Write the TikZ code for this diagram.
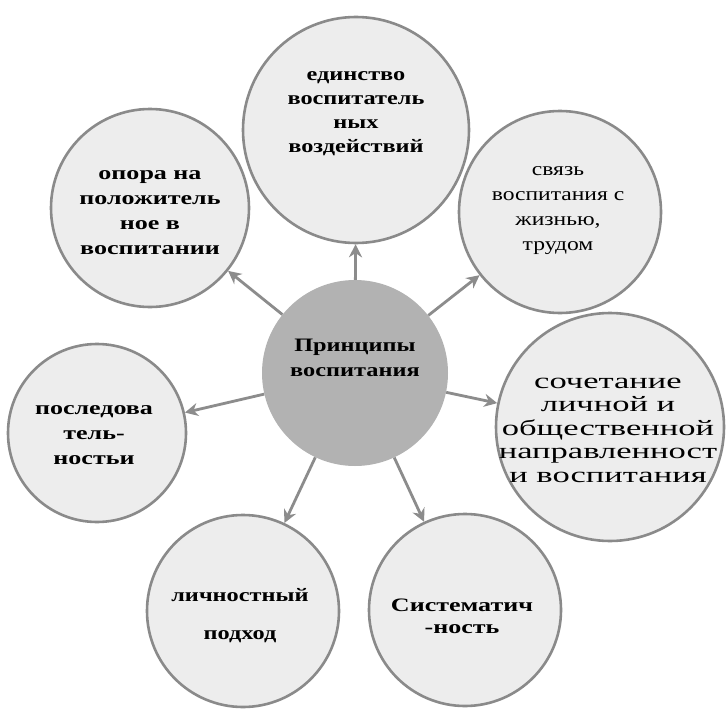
\documentclass[tikz,border=0pt]{standalone}
\usepackage{fontspec}
\setmainfont{Liberation Serif}
\newfontfamily\fb{Liberation Serif}[FakeStretch=1.37]
\newfontfamily\fbn{Liberation Serif}[FakeStretch=1.28]
\newfontfamily\fr{Liberation Serif}[FakeStretch=1.24]
\newfontfamily\frr{Liberation Serif}[FakeStretch=1.57]
\usetikzlibrary{arrows.meta}
\definecolor{ringgray}{HTML}{8A8A8A}
\definecolor{lightfill}{HTML}{EDEDED}
\definecolor{centerfill}{HTML}{B2B2B2}
\definecolor{arrgray}{HTML}{8C8C8C}
\begin{document}
\begin{tikzpicture}[x=1pt,y=-1pt,
  circ/.style={circle, draw=ringgray, line width=2.6pt, fill=lightfill, inner sep=0pt},
  lbl/.style={align=center, inner sep=0pt, text=black},
  bl19/.style={lbl, font=\fb\bfseries\fontsize{19}{25}\selectfont},
  arr/.style={draw=arrgray, line width=2.8pt, -{Stealth[length=13pt,width=13pt]}}]
\useasboundingbox[fill=white] (0,0) rectangle (728,709);
% circles
\node[circ, minimum size=226pt] (t)  at (356,130) {};
\node[circ, minimum size=198pt] (ul) at (150,208) {};
\node[circ, minimum size=202pt] (ur) at (560,212) {};
\node[circ, minimum size=178pt] (l)  at (97,433) {};
\node[circ, minimum size=228pt] (r)  at (610,427) {};
\node[circ, minimum size=192pt] (bl) at (243,611) {};
\node[circ, minimum size=192pt] (br) at (465,610) {};
\node[circle, fill=centerfill, minimum size=186pt, inner sep=0pt] (c) at (355,373) {};
% arrows
\draw[arr] (c) -- (t);
\draw[arr] (c) -- (ul);
\draw[arr] (c) -- (ur);
\draw[arr] (c) -- (l);
\draw[arr] (c) -- (r);
\draw[arr] (c) -- (bl);
\draw[arr] (c) -- (br);
% labels
\node[lbl, font=\fbn\bfseries\fontsize{19}{24}\selectfont] (tt) at (356,114) {единство\\воспитатель\\ных\\воздействий};
\node[bl19] (ult) at (150,213) {опора на\\положитель\\ное в\\воспитании};
\node[lbl, font=\fr\fontsize{19}{25}\selectfont] (urt) at (558,211) {связь\\воспитания с\\жизнью,\\трудом};
\node[bl19] (lt) at (94,435) {последова\\тель-\\ностьи};
\node[lbl, font=\frr\fontsize{22}{23.5}\selectfont] (rt) at (608,430) {сочетание\\личной и\\общественной\\направленност\\и воспитания};
\node[lbl, font=\fbn\bfseries\fontsize{19}{38}\selectfont] (blt) at (240,616) {личностный\\подход};
\node[bl19, font=\fb\bfseries\fontsize{19}{22}\selectfont] (brt) at (462,616) {Систематич\\-ность};
\node[lbl, font=\fbn\bfseries\fontsize{19}{25}\selectfont] (ct) at (355,358) {Принципы\\воспитания};
\end{tikzpicture}
\end{document}
